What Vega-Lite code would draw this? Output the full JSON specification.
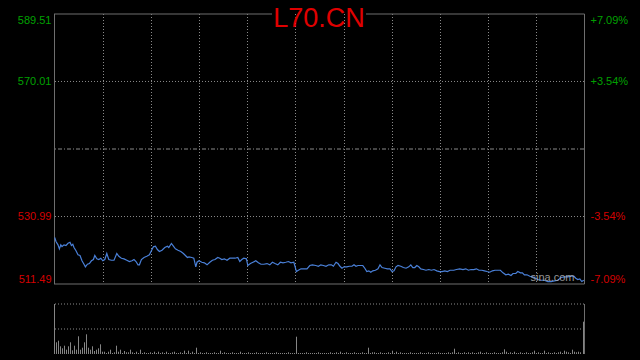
{
  "$schema": "https://vega.github.io/schema/vega-lite/v6.json",
  "width": 530,
  "height": 340,
  "autosize": {"type": "none"},
  "padding": {"left": 54, "top": 14, "right": 56, "bottom": 6},
  "background": "#000000",
  "config": {"view": {"stroke": null}, "font": "Liberation Sans"},
  "datasets": {
    "price": [
      {"t":0.35,"p":524.92},{"t":1,"p":523.76},{"t":2,"p":522.81},{"t":2.7,"p":521.65},{"t":3.4,"p":522.81},{"t":4,"p":522.32},{"t":5,"p":522.81},{"t":6,"p":522.61},{"t":7,"p":523.27},{"t":8,"p":523.56},
      {"t":8.7,"p":522.61},{"t":9.4,"p":522.98},{"t":10,"p":522.03},{"t":11,"p":521.08},{"t":12,"p":519.92},{"t":13,"p":519.72},{"t":14,"p":518.19},{"t":15,"p":517.2},{"t":15.7,"p":516.45},{"t":16.7,"p":517.2},
      {"t":17.7,"p":517.4},{"t":18.7,"p":518.19},{"t":19.7,"p":518.56},{"t":20.4,"p":519.72},{"t":21.4,"p":518.76},{"t":22.4,"p":518.56},{"t":23.4,"p":518.94},{"t":24.4,"p":518.19},{"t":25.4,"p":518.56},{"t":26.4,"p":520.3},
      {"t":27.4,"p":518.56},{"t":28.7,"p":518.36},{"t":30,"p":518.36},{"t":31.4,"p":520.3},{"t":32.4,"p":519.51},{"t":33.7,"p":518.94},{"t":35,"p":518.76},{"t":36.4,"p":518.36},{"t":37.7,"p":517.98},{"t":39,"p":518.19},
      {"t":40,"p":518.56},{"t":41,"p":517.98},{"t":42,"p":517.03},{"t":42.7,"p":517.03},{"t":43.7,"p":518.56},{"t":45,"p":519.14},{"t":46.4,"p":519.51},{"t":47.7,"p":519.92},{"t":48.7,"p":521.08},{"t":49.7,"p":522.23},
      {"t":50.7,"p":522.41},{"t":51.7,"p":521.45},{"t":52.7,"p":520.87},{"t":54,"p":521.25},{"t":55.4,"p":522.03},{"t":56.7,"p":522.41},{"t":57.4,"p":522.03},{"t":58.7,"p":523.19},{"t":59.7,"p":522.41},{"t":60.7,"p":521.65},
      {"t":62,"p":521.25},{"t":63.4,"p":520.87},{"t":64.7,"p":520.3},{"t":65.7,"p":519.72},{"t":66.7,"p":519.14},{"t":67.5,"p":519.34},{"t":68.9,"p":519.14},{"t":69.9,"p":518.94},{"t":70.9,"p":516.45},{"t":71.5,"p":517.78},
      {"t":72.5,"p":518.19},{"t":73.9,"p":517.78},{"t":75.2,"p":517.61},{"t":76.5,"p":517.03},{"t":77.9,"p":517.78},{"t":79.2,"p":518.36},{"t":80.5,"p":518.56},{"t":81.9,"p":519.14},{"t":82.9,"p":518.94},{"t":83.9,"p":518.56},
      {"t":85.2,"p":518.76},{"t":86.5,"p":518.36},{"t":87.9,"p":518.94},{"t":89.2,"p":518.94},{"t":90.5,"p":518.94},{"t":91.9,"p":519.14},{"t":92.9,"p":517.98},{"t":93.9,"p":518.56},{"t":94.9,"p":518.94},{"t":96.2,"p":518.76},
      {"t":96.9,"p":516.83},{"t":98.2,"p":517.4},{"t":99.5,"p":517.78},{"t":100.9,"p":518.19},{"t":102.2,"p":517.61},{"t":103.5,"p":517.2},{"t":104.9,"p":517.2},{"t":106.5,"p":517.4},{"t":107.9,"p":517.03},{"t":109.2,"p":517.78},
      {"t":110.5,"p":517.4},{"t":111.9,"p":517.03},{"t":113.2,"p":517.78},{"t":114.5,"p":517.61},{"t":115.9,"p":517.78},{"t":117.2,"p":517.98},{"t":118.5,"p":517.61},{"t":119.9,"p":517.78},{"t":120.5,"p":516.62},{"t":121.2,"p":515.09},
      {"t":122.2,"p":515.47},{"t":123.5,"p":515.87},{"t":124.9,"p":515.87},{"t":126.5,"p":515.87},{"t":127.9,"p":516.83},{"t":129.2,"p":517.03},{"t":130.9,"p":516.83},{"t":132.2,"p":516.62},{"t":133.4,"p":517.03},{"t":134.7,"p":516.83},
      {"t":136,"p":516.62},{"t":137.4,"p":517.03},{"t":138.7,"p":517.03},{"t":139.7,"p":516.62},{"t":141,"p":517.78},{"t":142,"p":517.4},{"t":143,"p":516.62},{"t":144,"p":516.05},{"t":145,"p":516.45},{"t":146.4,"p":516.45},
      {"t":147.7,"p":516.62},{"t":149,"p":516.62},{"t":150,"p":517.03},{"t":151,"p":516.62},{"t":152,"p":516.83},{"t":153.4,"p":516.83},{"t":154.4,"p":516.83},{"t":155.4,"p":516.05},{"t":156.4,"p":515.09},{"t":157.4,"p":515.3},
      {"t":158.4,"p":514.89},{"t":159.4,"p":515.3},{"t":160.7,"p":515.47},{"t":162,"p":515.87},{"t":163,"p":517.03},{"t":164,"p":516.25},{"t":165.4,"p":516.05},{"t":166.7,"p":515.87},{"t":168,"p":515.87},{"t":169,"p":515.09},
      {"t":170,"p":515.3},{"t":171,"p":516.45},{"t":172,"p":516.83},{"t":173.4,"p":516.62},{"t":174.7,"p":516.25},{"t":176,"p":516.05},{"t":177.4,"p":516.45},{"t":178.4,"p":517.03},{"t":179.4,"p":516.25},{"t":180.4,"p":516.25},
      {"t":181.4,"p":516.83},{"t":182.4,"p":516.45},{"t":183.4,"p":515.87},{"t":184.7,"p":515.67},{"t":186,"p":515.47},{"t":187.4,"p":515.67},{"t":188.7,"p":515.47},{"t":190,"p":515.67},{"t":191.4,"p":515.3},{"t":192.7,"p":515.09},
      {"t":194,"p":515.09},{"t":195.4,"p":515.3},{"t":196.7,"p":515.09},{"t":198,"p":515.47},{"t":199.9,"p":515.47},{"t":201.2,"p":515.67},{"t":202.9,"p":515.87},{"t":204.5,"p":515.67},{"t":205.9,"p":515.87},{"t":207.2,"p":515.47},
      {"t":208.5,"p":515.67},{"t":209.9,"p":515.67},{"t":211.2,"p":515.87},{"t":212.5,"p":515.47},{"t":213.9,"p":515.47},{"t":215.2,"p":515.3},{"t":216.5,"p":515.09},{"t":217.9,"p":514.89},{"t":219.2,"p":515.3},{"t":220.5,"p":515.47},
      {"t":221.9,"p":515.47},{"t":223.2,"p":515.47},{"t":224.5,"p":514.72},{"t":225.9,"p":514.14},{"t":227.2,"p":514.31},{"t":228.5,"p":513.94},{"t":229.5,"p":514.52},{"t":230.9,"p":514.52},{"t":231.9,"p":515.09},{"t":233.2,"p":514.72},
      {"t":234.2,"p":514.72},{"t":235.2,"p":514.14},{"t":236.5,"p":514.14},{"t":237.9,"p":513.74},{"t":239.2,"p":513.56},{"t":240.2,"p":513.36},{"t":241.9,"p":512.78},{"t":243.5,"p":512.58},{"t":245.2,"p":512.58},{"t":246.9,"p":512.2},
      {"t":248.5,"p":512.2},{"t":250.2,"p":512.4},{"t":251.9,"p":512.58},{"t":253.5,"p":513.36},{"t":255.2,"p":513.56},{"t":256.9,"p":513.56},{"t":258.5,"p":513.74},{"t":259.9,"p":513.74},{"t":260.9,"p":513.16},{"t":261.9,"p":512.78},
      {"t":262.9,"p":512.98},{"t":263.9,"p":512.2},{"t":264.9,"p":512.58}
    ],
    "vol": [
      {"t":0.25,"v":1000},{"t":1.25,"v":234},{"t":2.25,"v":266},{"t":3.25,"v":154},{"t":4.25,"v":114},{"t":5.25,"v":166},{"t":6.25,"v":86},{"t":7.25,"v":154},{"t":8.25,"v":234},{"t":9.25,"v":74},
      {"t":10.25,"v":166},{"t":11.25,"v":86},{"t":12.25,"v":354},{"t":13.25,"v":86},{"t":14.25,"v":126},{"t":15.25,"v":234},{"t":16.25,"v":394},{"t":17.25,"v":126},{"t":18.25,"v":86},{"t":19.25,"v":154},
      {"t":20.25,"v":60},{"t":21.25,"v":86},{"t":22.25,"v":114},{"t":23.25,"v":194},{"t":24.25,"v":46},{"t":25.25,"v":46},{"t":26.25,"v":20},{"t":27.25,"v":46},{"t":28.25,"v":86},{"t":29.25,"v":20},
      {"t":30.25,"v":34},{"t":31.25,"v":166},{"t":32.25,"v":46},{"t":33.25,"v":86},{"t":34.25,"v":20},{"t":35.25,"v":60},{"t":36.25,"v":34},{"t":37.25,"v":34},{"t":38.25,"v":86},{"t":39.25,"v":34},
      {"t":40.25,"v":20},{"t":41.25,"v":46},{"t":42.25,"v":20},{"t":43.25,"v":86},{"t":44.25,"v":20},{"t":45.25,"v":34},{"t":46.25,"v":20},{"t":47.25,"v":20},{"t":48.25,"v":34},{"t":49.25,"v":20},
      {"t":50.25,"v":46},{"t":51.25,"v":20},{"t":52.25,"v":46},{"t":53.25,"v":20},{"t":54.25,"v":34},{"t":55.25,"v":20},{"t":56.25,"v":46},{"t":57.25,"v":20},{"t":58.25,"v":20},{"t":59.25,"v":34},
      {"t":60.25,"v":46},{"t":61.25,"v":20},{"t":62.25,"v":20},{"t":63.25,"v":34},{"t":64.25,"v":20},{"t":65.25,"v":66},{"t":66.25,"v":20},{"t":67.25,"v":66},{"t":68.25,"v":20},{"t":69.25,"v":46},
      {"t":70.25,"v":20},{"t":71.25,"v":126},{"t":72.25,"v":20},{"t":73.25,"v":34},{"t":74.25,"v":20},{"t":75.25,"v":20},{"t":76.25,"v":34},{"t":77.25,"v":20},{"t":78.25,"v":20},{"t":79.25,"v":20},
      {"t":80.25,"v":34},{"t":81.25,"v":20},{"t":82.25,"v":20},{"t":83.25,"v":66},{"t":84.25,"v":20},{"t":85.25,"v":34},{"t":86.25,"v":20},{"t":87.25,"v":20},{"t":88.25,"v":20},{"t":89.25,"v":34},
      {"t":90.25,"v":20},{"t":91.25,"v":20},{"t":92.25,"v":20},{"t":93.25,"v":46},{"t":94.25,"v":20},{"t":95.25,"v":20},{"t":96.25,"v":20},{"t":97.25,"v":34},{"t":98.25,"v":20},{"t":99.25,"v":20},
      {"t":100.25,"v":20},{"t":101.25,"v":34},{"t":102.25,"v":20},{"t":103.25,"v":20},{"t":104.25,"v":20},{"t":105.25,"v":20},{"t":106.25,"v":34},{"t":107.25,"v":20},{"t":108.25,"v":20},{"t":109.25,"v":20},
      {"t":110.25,"v":20},{"t":111.25,"v":34},{"t":112.25,"v":20},{"t":113.25,"v":20},{"t":114.25,"v":20},{"t":115.25,"v":20},{"t":116.25,"v":20},{"t":117.25,"v":34},{"t":118.25,"v":20},{"t":119.25,"v":20},
      {"t":120.25,"v":20},{"t":121.25,"v":346},{"t":122.25,"v":20},{"t":123.25,"v":20},{"t":124.25,"v":20},{"t":125.25,"v":20},{"t":126.25,"v":34},{"t":127.25,"v":20},{"t":128.25,"v":20},{"t":129.25,"v":20},
      {"t":130.25,"v":20},{"t":131.25,"v":20},{"t":132.25,"v":34},{"t":133.25,"v":20},{"t":134.25,"v":20},{"t":135.25,"v":20},{"t":136.25,"v":20},{"t":137.25,"v":20},{"t":138.25,"v":34},{"t":139.25,"v":20},
      {"t":140.25,"v":20},{"t":141.25,"v":34},{"t":142.25,"v":20},{"t":143.25,"v":46},{"t":144.25,"v":20},{"t":145.25,"v":20},{"t":146.25,"v":34},{"t":147.25,"v":20},{"t":148.25,"v":20},{"t":149.25,"v":20},
      {"t":150.25,"v":34},{"t":151.25,"v":20},{"t":152.25,"v":20},{"t":153.25,"v":20},{"t":154.25,"v":34},{"t":155.25,"v":20},{"t":156.25,"v":20},{"t":157.25,"v":126},{"t":158.25,"v":20},{"t":159.25,"v":34},
      {"t":160.25,"v":34},{"t":161.25,"v":20},{"t":162.25,"v":20},{"t":163.25,"v":34},{"t":164.25,"v":20},{"t":165.25,"v":20},{"t":166.25,"v":20},{"t":167.25,"v":34},{"t":168.25,"v":20},{"t":169.25,"v":66},
      {"t":170.25,"v":20},{"t":171.25,"v":46},{"t":172.25,"v":20},{"t":173.25,"v":34},{"t":174.25,"v":20},{"t":175.25,"v":20},{"t":176.25,"v":20},{"t":177.25,"v":20},{"t":178.25,"v":34},{"t":179.25,"v":20},
      {"t":180.25,"v":20},{"t":181.25,"v":20},{"t":182.25,"v":20},{"t":183.25,"v":34},{"t":184.25,"v":20},{"t":185.25,"v":20},{"t":186.25,"v":20},{"t":187.25,"v":34},{"t":188.25,"v":20},{"t":189.25,"v":20},
      {"t":190.25,"v":20},{"t":191.25,"v":20},{"t":192.25,"v":34},{"t":193.25,"v":20},{"t":194.25,"v":20},{"t":195.25,"v":20},{"t":196.25,"v":20},{"t":197.25,"v":34},{"t":198.25,"v":20},{"t":199.25,"v":34},
      {"t":200.25,"v":106},{"t":201.25,"v":20},{"t":202.25,"v":34},{"t":203.25,"v":20},{"t":204.25,"v":20},{"t":205.25,"v":34},{"t":206.25,"v":20},{"t":207.25,"v":34},{"t":208.25,"v":20},{"t":209.25,"v":34},
      {"t":210.25,"v":20},{"t":211.25,"v":20},{"t":212.25,"v":34},{"t":213.25,"v":46},{"t":214.25,"v":20},{"t":215.25,"v":20},{"t":216.25,"v":34},{"t":217.25,"v":20},{"t":218.25,"v":20},{"t":219.25,"v":20},
      {"t":220.25,"v":34},{"t":221.25,"v":20},{"t":222.25,"v":20},{"t":223.25,"v":20},{"t":224.25,"v":34},{"t":225.25,"v":94},{"t":226.25,"v":46},{"t":227.25,"v":20},{"t":228.25,"v":34},{"t":229.25,"v":20},
      {"t":230.25,"v":46},{"t":231.25,"v":20},{"t":232.25,"v":20},{"t":233.25,"v":34},{"t":234.25,"v":20},{"t":235.25,"v":20},{"t":236.25,"v":34},{"t":237.25,"v":20},{"t":238.25,"v":20},{"t":239.25,"v":34},
      {"t":240.25,"v":66},{"t":241.25,"v":20},{"t":242.25,"v":34},{"t":243.25,"v":20},{"t":244.25,"v":20},{"t":245.25,"v":66},{"t":246.25,"v":20},{"t":247.25,"v":34},{"t":248.25,"v":20},{"t":249.25,"v":20},
      {"t":250.25,"v":34},{"t":251.25,"v":20},{"t":252.25,"v":34},{"t":253.25,"v":46},{"t":254.25,"v":20},{"t":255.25,"v":66},{"t":256.25,"v":46},{"t":257.25,"v":34},{"t":258.25,"v":20},{"t":259.25,"v":86},
      {"t":260.25,"v":46},{"t":261.25,"v":34},{"t":262.25,"v":46},{"t":263.25,"v":34},{"t":264.75,"v":646}
    ]
  },
  "layer": [
    {
      "layer": [
        {
          "data": {"values": [{"p": 570.01}, {"p": 530.99}]},
          "mark": {"type": "rule", "stroke": "#8a8a8a", "strokeWidth": 1, "strokeDash": [1, 2]},
          "encoding": {
            "y": {
              "field": "p", "type": "quantitative",
              "scale": {"domain": [491.263, 589.51], "nice": false, "zero": false},
              "axis": {
                "orient": "left", "values": [589.51, 570.01, 530.99, 511.49], "format": ".2f",
                "title": null, "domain": false, "ticks": false, "grid": false,
                "labelPadding": 3, "labelFontSize": 11, "labelFont": "Liberation Sans",
                "labelColor": {"condition": {"test": "datum.value > 550.5", "value": "#00a000"}, "value": "#d40000"},
                "labelBaseline": {"condition": [{"test": "datum.value > 589", "value": "top"}, {"test": "datum.value < 512", "value": "bottom"}], "value": "middle"}
              }
            }
          }
        },
        {
          "data": {"values": [{"p": 550.5}]},
          "mark": {"type": "rule", "stroke": "#8a8a8a", "strokeWidth": 1, "strokeDash": [4, 2, 1, 2]},
          "encoding": {
            "y": {
              "field": "p", "type": "quantitative",
              "scale": {"domain": [491.263, 589.51], "nice": false, "zero": false},
              "axis": {
                "orient": "right", "values": [589.51, 570.01, 530.99, 511.49],
                "labelExpr": "(datum.value > 550.5 ? '+' : '-') + format(abs(datum.value - 550.5) / 550.5 * 100, '.2f') + '%'",
                "title": null, "domain": false, "ticks": false, "grid": false,
                "labelPadding": 6, "labelAlign": "left", "labelFontSize": 11, "labelFont": "Liberation Sans",
                "labelColor": {"condition": {"test": "datum.value > 550.5", "value": "#00a000"}, "value": "#d40000"},
                "labelBaseline": {"condition": [{"test": "datum.value > 589", "value": "top"}, {"test": "datum.value < 512", "value": "bottom"}], "value": "middle"}
              }
            }
          }
        },
        {
          "data": {"values": [{"g": 24.75}, {"g": 48.75}, {"g": 72.75}, {"g": 96.75}, {"g": 120.75}, {"g": 145.25}, {"g": 169.25}, {"g": 193.25}, {"g": 217.25}, {"g": 241.25}]},
          "mark": {"type": "rule", "stroke": "#8a8a8a", "strokeWidth": 1, "strokeDash": [1, 2]},
          "encoding": {
            "x": {"field": "g", "type": "quantitative", "scale": {"domain": [0, 265]}, "axis": null},
            "y": {"datum": 589.51, "type": "quantitative", "scale": {"domain": [491.263, 589.51], "nice": false, "zero": false}, "axis": null},
            "y2": {"datum": 511.49}
          }
        },
        {
          "data": {"values": [{}]},
          "mark": {"type": "rule", "stroke": "#6e6e6e", "strokeWidth": 1},
          "encoding": {
            "x": {"datum": 0.25, "type": "quantitative", "scale": {"domain": [0, 265]}, "axis": null},
            "y": {"datum": 589.51, "type": "quantitative", "scale": {"domain": [491.263, 589.51], "nice": false, "zero": false}, "axis": null},
            "y2": {"datum": 511.49}
          }
        },
        {
          "data": {"values": [{}]},
          "mark": {"type": "rule", "stroke": "#6e6e6e", "strokeWidth": 1},
          "encoding": {
            "x": {"datum": 265.25, "type": "quantitative", "scale": {"domain": [0, 265]}, "axis": null},
            "y": {"datum": 589.51, "type": "quantitative", "scale": {"domain": [491.263, 589.51], "nice": false, "zero": false}, "axis": null},
            "y2": {"datum": 511.49}
          }
        },
        {
          "data": {"values": [{}]},
          "mark": {"type": "rule", "stroke": "#6e6e6e", "strokeWidth": 1},
          "encoding": {
            "x": {"datum": 0, "type": "quantitative", "scale": {"domain": [0, 265]}, "axis": null},
            "x2": {"datum": 265.25},
            "y": {"datum": 511.49, "type": "quantitative", "scale": {"domain": [491.263, 589.51], "nice": false, "zero": false}, "axis": null}
          }
        },
        {
          "data": {"values": [{}]},
          "mark": {"type": "rule", "stroke": "#6e6e6e", "strokeWidth": 1},
          "encoding": {
            "x": {"datum": 0, "type": "quantitative", "scale": {"domain": [0, 265]}, "axis": null},
            "x2": {"datum": 109},
            "y": {"datum": 589.51, "type": "quantitative", "scale": {"domain": [491.263, 589.51], "nice": false, "zero": false}, "axis": null}
          }
        },
        {
          "data": {"values": [{}]},
          "mark": {"type": "rule", "stroke": "#6e6e6e", "strokeWidth": 1},
          "encoding": {
            "x": {"datum": 156, "type": "quantitative", "scale": {"domain": [0, 265]}, "axis": null},
            "x2": {"datum": 265.25},
            "y": {"datum": 589.51, "type": "quantitative", "scale": {"domain": [491.263, 589.51], "nice": false, "zero": false}, "axis": null}
          }
        },
        {
          "data": {"name": "price"},
          "mark": {"type": "line", "stroke": "#4a80d8", "strokeWidth": 1.2, "interpolate": "linear"},
          "encoding": {
            "x": {"field": "t", "type": "quantitative", "scale": {"domain": [0, 265]}, "axis": null},
            "y": {"field": "p", "type": "quantitative", "scale": {"domain": [491.263, 589.51], "nice": false, "zero": false}, "axis": null}
          }
        },
        {
          "data": {"values": [{}]},
          "mark": {"type": "text", "text": "L70.CN", "font": "Liberation Sans", "fontSize": 27, "color": "#e00000", "align": "center", "baseline": "alphabetic", "dy": 13},
          "encoding": {
            "x": {"datum": 132.5, "type": "quantitative", "scale": {"domain": [0, 265]}, "axis": null},
            "y": {"datum": 589.51, "type": "quantitative", "scale": {"domain": [491.263, 589.51], "nice": false, "zero": false}, "axis": null}
          }
        },
        {
          "data": {"values": [{}]},
          "mark": {"type": "text", "text": "sina.com", "font": "Liberation Sans", "fontSize": 11, "color": "#b0b0b0", "opacity": 0.85, "align": "center", "baseline": "alphabetic", "dy": -3},
          "encoding": {
            "x": {"datum": 249.25, "type": "quantitative", "scale": {"domain": [0, 265]}, "axis": null},
            "y": {"datum": 511.49, "type": "quantitative", "scale": {"domain": [491.263, 589.51], "nice": false, "zero": false}, "axis": null}
          }
        }
      ],
      "resolve": {"axis": {"y": "independent"}}
    },
    {
      "layer": [
        {
          "data": {"values": [{"v": 1000}, {"v": 500}]},
          "mark": {"type": "rule", "stroke": "#8a8a8a", "strokeWidth": 1, "strokeDash": [1, 2]},
          "encoding": {
            "y": {"field": "v", "type": "quantitative", "scale": {"domain": [0, 6800], "nice": false, "zero": false}, "axis": null}
          }
        },
        {
          "data": {"values": [{}]},
          "mark": {"type": "rule", "stroke": "#6e6e6e", "strokeWidth": 1},
          "encoding": {
            "x": {"datum": 265.25, "type": "quantitative", "scale": {"domain": [0, 265]}, "axis": null},
            "y": {"datum": 1000, "type": "quantitative", "scale": {"domain": [0, 6800], "nice": false, "zero": false}, "axis": null},
            "y2": {"datum": 0}
          }
        },
        {
          "data": {"name": "vol"},
          "mark": {"type": "rule", "stroke": "#858585", "strokeWidth": 1},
          "encoding": {
            "x": {"field": "t", "type": "quantitative", "scale": {"domain": [0, 265]}, "axis": null},
            "y": {"field": "v", "type": "quantitative", "scale": {"domain": [0, 6800], "nice": false, "zero": false}, "axis": null},
            "y2": {"datum": 0}
          }
        }
      ]
    }
  ],
  "resolve": {"scale": {"y": "independent"}}
}
